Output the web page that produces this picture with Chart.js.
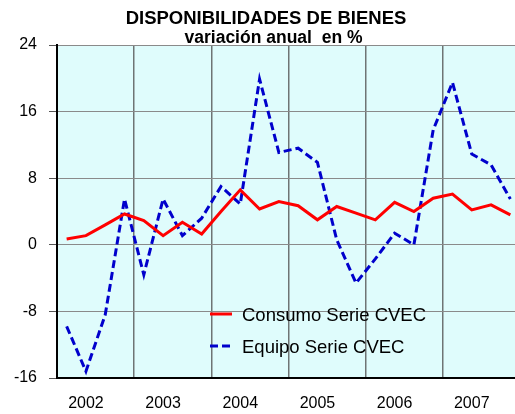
<!DOCTYPE html>
<html>
<head>
<meta charset="utf-8">
<script src="https://cdn.jsdelivr.net/npm/chart.js@4.4.1/dist/chart.umd.min.js"></script>
<style>
  html, body { margin: 0; padding: 0; background: #fff; overflow: hidden; }
  #wrap { width: 520px; height: 414px; }
</style>
</head>
<body>
<div id="wrap"><canvas id="dispChart"></canvas></div>
<script>
// datos trimestrales (variación anual en %)
const years = ['2002', '2003', '2004', '2005', '2006', '2007'];
const yTicks = [24, 16, 8, 0, -8, -16];
const consumo = [0.7, 1.1, 2.4, 3.7, 2.9, 1.1, 2.7, 1.3, 4.0, 6.6, 4.3, 5.2,
                 4.7, 3.0, 4.6, 3.8, 3.0, 5.1, 4.0, 5.6, 6.1, 4.2, 4.8, 3.6];
const equipo = [-9.8, -15.2, -8.4, 5.5, -3.6, 5.5, 1.1, 3.2, 7.0, 4.9, 19.9, 11.1,
                11.6, 9.9, 0.6, -4.6, -1.7, 1.4, 0.0, 13.8, 19.5, 10.9, 9.6, 5.5];
const seriesNames = ['Consumo Serie CVEC', 'Equipo Serie CVEC'];

const FONT = "'Liberation Sans', Arial, sans-serif";

// fondo del área del gráfico
const areaBg = {
    id: 'areaBg',
    beforeDraw(chart) {
        const a = chart.chartArea;
        const ctx = chart.ctx;
        ctx.save();
        ctx.fillStyle = '#DFFCFC';
        ctx.fillRect(a.left, a.top, a.right - a.left, a.bottom - a.top);
        ctx.restore();
    }
};

// leyenda dentro del gráfico
const innerLegend = {
    id: 'innerLegend',
    afterDatasetsDraw(chart) {
        const ctx = chart.ctx;
        ctx.save();
        chart.data.datasets.forEach((ds, i) => {
            const y = 314 + i * 32;
            ctx.strokeStyle = ds.borderColor;
            ctx.lineWidth = 3;
            ctx.setLineDash(ds.borderDash || []);
            ctx.beginPath();
            ctx.moveTo(210, y);
            ctx.lineTo(232, y);
            ctx.stroke();
            ctx.setLineDash([]);
            ctx.fillStyle = '#000';
            ctx.font = '18.5px ' + FONT;
            ctx.textBaseline = 'middle';
            ctx.textAlign = 'left';
            ctx.fillText(ds.label, 242, y + 1.5);
        });
        ctx.restore();
    }
};

// títulos
const titles = {
    id: 'titles',
    afterDraw(chart) {
        const ctx = chart.ctx;
        ctx.save();
        ctx.fillStyle = '#000';
        ctx.textAlign = 'center';
        ctx.textBaseline = 'alphabetic';
        ctx.font = 'bold 18.5px ' + FONT;
        ctx.fillText('DISPONIBILIDADES DE BIENES', 266, 24);
        ctx.font = 'bold 17.5px ' + FONT;
        ctx.fillText('variación anual  en %', 273.5, 43);
        ctx.restore();
    }
};

const chart = new Chart(document.getElementById('dispChart'), {
    type: 'line',
    data: {
        datasets: [{
            label: seriesNames[0],
            data: consumo.map((v, i) => ({ x: i + 0.5, y: v })),
            borderColor: '#FF0000',
            borderWidth: 3,
            pointRadius: 0,
            tension: 0,
            fill: false
        }, {
            label: seriesNames[1],
            data: equipo.map((v, i) => ({ x: i + 0.5, y: v })),
            borderColor: '#0000CC',
            borderWidth: 3,
            borderDash: [8, 4],
            pointRadius: 0,
            tension: 0,
            fill: false
        }]
    },
    options: {
        responsive: true,
        maintainAspectRatio: false,
        animation: false,
        layout: { padding: { top: 45, left: 0, right: 0, bottom: 0 } },
        plugins: {
            legend: { display: false },
            tooltip: { enabled: false },
            title: { display: false }
        },
        scales: {
            x: {
                type: 'linear',
                position: 'bottom',
                min: 0,
                max: years.length * 4,
                afterBuildTicks: s => { s.ticks = years.map((y, k) => ({ value: 4 * k + 1.5 })); },
                afterFit: s => { s.height = 36; },
                ticks: {
                    callback: (v, i) => years[i],
                    font: { family: FONT, size: 16 },
                    color: '#000',
                    padding: 16,
                    maxRotation: 0,
                    autoSkip: false
                },
                grid: { display: false, drawTicks: false },
                border: { display: true, color: '#000', width: 2 }
            },
            xGrid: {
                type: 'linear',
                position: 'top',
                min: 0,
                max: years.length * 4,
                afterBuildTicks: s => { s.ticks = years.slice(1).map((y, k) => ({ value: 4 * (k + 1) })); },
                afterFit: s => { s.height = 0; },
                ticks: { display: false },
                grid: { color: '#6E7474', lineWidth: 1.5, drawTicks: false },
                border: { display: false }
            },
            y: {
                min: -16,
                max: 24,
                afterBuildTicks: s => { s.ticks = yTicks.map(v => ({ value: v })); },
                afterFit: s => { s.width = 57; },
                ticks: {
                    font: { family: FONT, size: 16 },
                    color: '#000',
                    padding: 12
                },
                grid: { color: '#111', lineWidth: 1, tickLength: 8, tickColor: '#555' },
                border: { display: true, color: '#000', width: 2, dash: [6, 3] }
            },
            yGrid: {
                position: 'right',
                min: -16,
                max: 24,
                z: -1,
                afterBuildTicks: s => { s.ticks = yTicks.map(v => ({ value: v })); },
                afterFit: s => { s.width = 0; },
                ticks: { display: false },
                grid: { color: '#8A8A8A', lineWidth: 1, drawTicks: false },
                border: { display: false }
            }
        }
    },
    plugins: [areaBg, innerLegend, titles]
});
</script>
</body>
</html>
